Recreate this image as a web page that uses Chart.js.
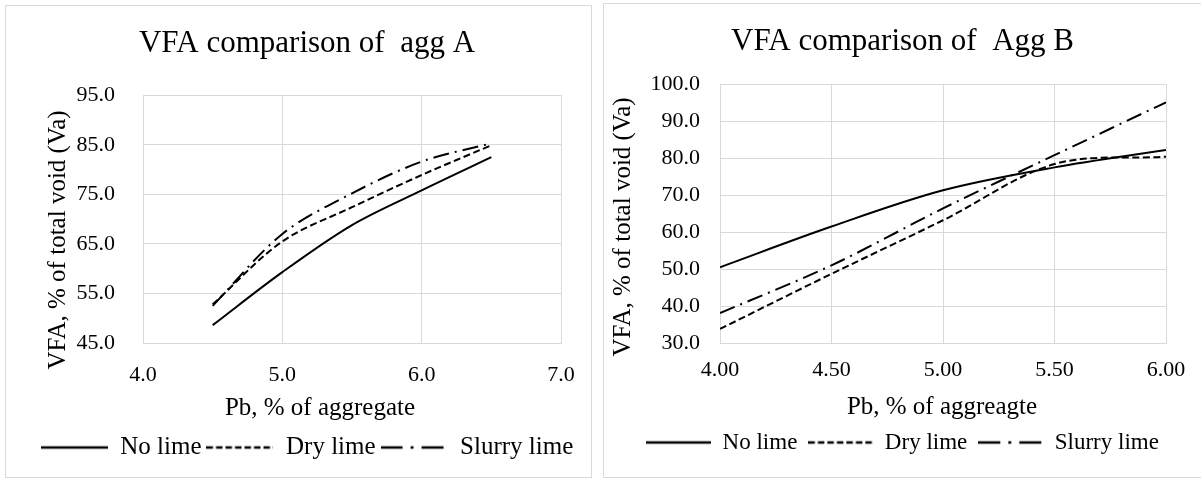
<!DOCTYPE html>
<html>
<head>
<meta charset="utf-8">
<title>VFA comparison</title>
<script src="https://cdn.jsdelivr.net/npm/chart.js@4.4.1/dist/chart.umd.min.js"></script>
<style>
    html, body { margin: 0; padding: 0; background: #ffffff; }
    body { width: 1201px; height: 478px; position: relative; overflow: hidden; }
    .frame { position: absolute; border: 1px solid #d9d9d9; box-sizing: border-box; }
    canvas { position: absolute; }
</style>
</head>
<body>
<div class="frame" style="left:5px;top:5px;width:587px;height:473px;"></div>
<div class="frame" style="left:603px;top:3px;width:600px;height:475px;"></div>
<canvas id="chartA" width="585" height="471" style="left:6px;top:6px;"></canvas>
<canvas id="chartB" width="597" height="472" style="left:604px;top:4px;"></canvas>
<script>
// Agg A: binder content vs VFA
const aggA_pb = [4.5, 5.0, 5.5, 6.0, 6.5];
const aggA_noLime = [48.6, 59.3, 68.8, 75.8, 82.5];
const aggA_dryLime = [52.8, 65.5, 72.4, 78.9, 84.9];
const aggA_slurryLime = [52.5, 67.0, 75.2, 81.6, 85.3];
const aggA_xTicks = [4.0, 5.0, 6.0, 7.0];
const aggA_yTicks = [45, 55, 65, 75, 85, 95];

// Agg B: binder content vs VFA
const aggB_pb = [4.0, 4.5, 5.0, 5.5, 6.0];
const aggB_noLime = [50.5, 61.5, 71.3, 77.5, 82.2];
const aggB_dryLime = [33.8, 48.7, 63.2, 78.4, 80.4];
const aggB_slurryLime = [38.1, 51.0, 66.4, 80.8, 95.1];
const aggB_xTicks = [4.0, 4.5, 5.0, 5.5, 6.0];
const aggB_yTicks = [30, 40, 50, 60, 70, 80, 90, 100];

const seriesNames = ["No lime", "Dry lime", "Slurry lime"];

const FONT = "'Liberation Serif', 'Times New Roman', serif";
const gridColor = "#d9d9d9";
// solid, dash, long dash-dot
const dashStyles = [[], [7, 3.5], [16, 6, 2, 6]];
const legendDashes = [[], [6.5, 3], [22, 8, 3, 8]];

// Small canvas with a line sample, used as the legend point style
// (the legend only picks up point options, so the dash has to be baked in)
function lineSample(dash, width) {
    const c = document.createElement("canvas");
    c.width = width;
    c.height = 6;
    const g = c.getContext("2d");
    g.strokeStyle = "#000000";
    g.lineWidth = 2.5;
    g.setLineDash(dash);
    g.beginPath();
    g.moveTo(0, 3);
    g.lineTo(width, 3);
    g.stroke();
    return c;
}

// Axis titles drawn at fixed spots (the y title sits a bit below the plot centre)
const axisTitles = {
    id: "axisTitles",
    afterDraw(chart, args, opts) {
        const ctx = chart.ctx;
        ctx.save();
        ctx.font = "25px " + FONT;
        ctx.fillStyle = "#000000";
        ctx.textAlign = "center";
        ctx.textBaseline = "middle";
        ctx.fillText(opts.xText, opts.xPos[0], opts.xPos[1]);
        ctx.translate(opts.yPos[0], opts.yPos[1]);
        ctx.rotate(-Math.PI / 2);
        ctx.fillText(opts.yText, 0, 0);
        ctx.restore();
    }
};

function toPoints(xs, ys) {
    return xs.map((x, i) => ({ x: x, y: ys[i] }));
}

function makeChart(canvasId, s) {
    const values = [s.noLime, s.dryLime, s.slurryLime];
    return new Chart(document.getElementById(canvasId), {
        type: "line",
        plugins: [axisTitles],
        data: {
            datasets: seriesNames.map((name, i) => ({
                label: name,
                data: toPoints(s.pb, values[i]),
                borderColor: "#000000",
                backgroundColor: "#000000",
                borderWidth: 2,
                borderDash: dashStyles[i],
                pointRadius: 0,
                pointHoverRadius: 0,
                pointStyle: lineSample(legendDashes[i], s.legendLine),
                tension: 0.33,
            })),
        },
        options: {
            responsive: false,
            animation: false,
            layout: { padding: { left: s.padLeft, right: 0, top: 0, bottom: s.padBottom } },
            scales: {
                x: {
                    type: "linear",
                    min: s.xTicks[0],
                    max: s.xTicks[s.xTicks.length - 1],
                    afterBuildTicks: (scale) => { scale.ticks = s.xTicks.map(v => ({ value: v })); },
                    afterFit: (scale) => {
                        scale.height = s.xAxisHeight;
                        scale.paddingLeft = 0;
                        scale.paddingRight = s.plotRightGap;
                    },
                    grid: { color: gridColor, lineWidth: 1, drawTicks: false },
                    border: { color: gridColor },
                    ticks: {
                        padding: s.xTickPad,
                        color: "#000000",
                        font: { family: FONT, size: 22 },
                        maxRotation: 0,
                        callback: (v) => Number(v).toFixed(s.xDecimals),
                    },
                },
                y: {
                    min: s.yTicks[0],
                    max: s.yTicks[s.yTicks.length - 1],
                    afterBuildTicks: (scale) => { scale.ticks = s.yTicks.map(v => ({ value: v })); },
                    afterFit: (scale) => {
                        scale.width = s.yAxisWidth;
                        scale.paddingTop = 0;
                        scale.paddingBottom = 0;
                    },
                    grid: { color: gridColor, lineWidth: 1, drawTicks: false },
                    border: { color: gridColor },
                    ticks: {
                        padding: s.yTickPad,
                        color: "#000000",
                        font: { family: FONT, size: 22 },
                        callback: (v) => Number(v).toFixed(1),
                    },
                },
            },
            plugins: {
                tooltip: { enabled: false },
                title: {
                    display: true,
                    text: s.title,
                    color: "#000000",
                    font: { family: FONT, size: 31, weight: "normal" },
                    padding: { top: s.titlePadTop, bottom: s.titlePadBottom },
                },
                legend: {
                    position: "bottom",
                    labels: {
                        usePointStyle: true,
                        pointStyleWidth: s.legendLine,
                        color: "#000000",
                        font: { family: FONT, size: s.legendFont },
                        padding: s.legendPad,
                    },
                },
                axisTitles: {
                    xText: s.xTitle,
                    yText: "VFA, % of total void (Va)",
                    xPos: s.xTitlePos,
                    yPos: s.yTitlePos,
                },
            },
        },
    });
}

makeChart("chartA", {
    pb: aggA_pb,
    noLime: aggA_noLime,
    dryLime: aggA_dryLime,
    slurryLime: aggA_slurryLime,
    xTicks: aggA_xTicks,
    yTicks: aggA_yTicks,
    xDecimals: 1,
    title: "VFA comparison of  agg A",
    xTitle: "Pb, % of aggregate",
    titlePadTop: 19,
    titlePadBottom: 33,
    padLeft: 17,
    plotRightGap: 30,
    padBottom: 7,
    xAxisHeight: 87,
    yAxisWidth: 120,
    xTickPad: 19,
    yTickPad: 28,
    legendFont: 25,
    legendPad: 5,
    legendLine: 67,
    xTitlePos: [314, 402],
    yTitlePos: [52, 234],
});

makeChart("chartB", {
    pb: aggB_pb,
    noLime: aggB_noLime,
    dryLime: aggB_dryLime,
    slurryLime: aggB_slurryLime,
    xTicks: aggB_xTicks,
    yTicks: aggB_yTicks,
    xDecimals: 2,
    title: "VFA comparison of  Agg B",
    xTitle: "Pb, % of aggreagte",
    titlePadTop: 19,
    titlePadBottom: 24,
    padLeft: 0,
    plotRightGap: 35,
    padBottom: 12,
    xAxisHeight: 77,
    yAxisWidth: 116,
    xTickPad: 14,
    yTickPad: 20,
    legendFont: 23,
    legendPad: 11,
    legendLine: 65,
    xTitlePos: [338, 403],
    yTitlePos: [19, 223],
});
</script>
</body>
</html>
